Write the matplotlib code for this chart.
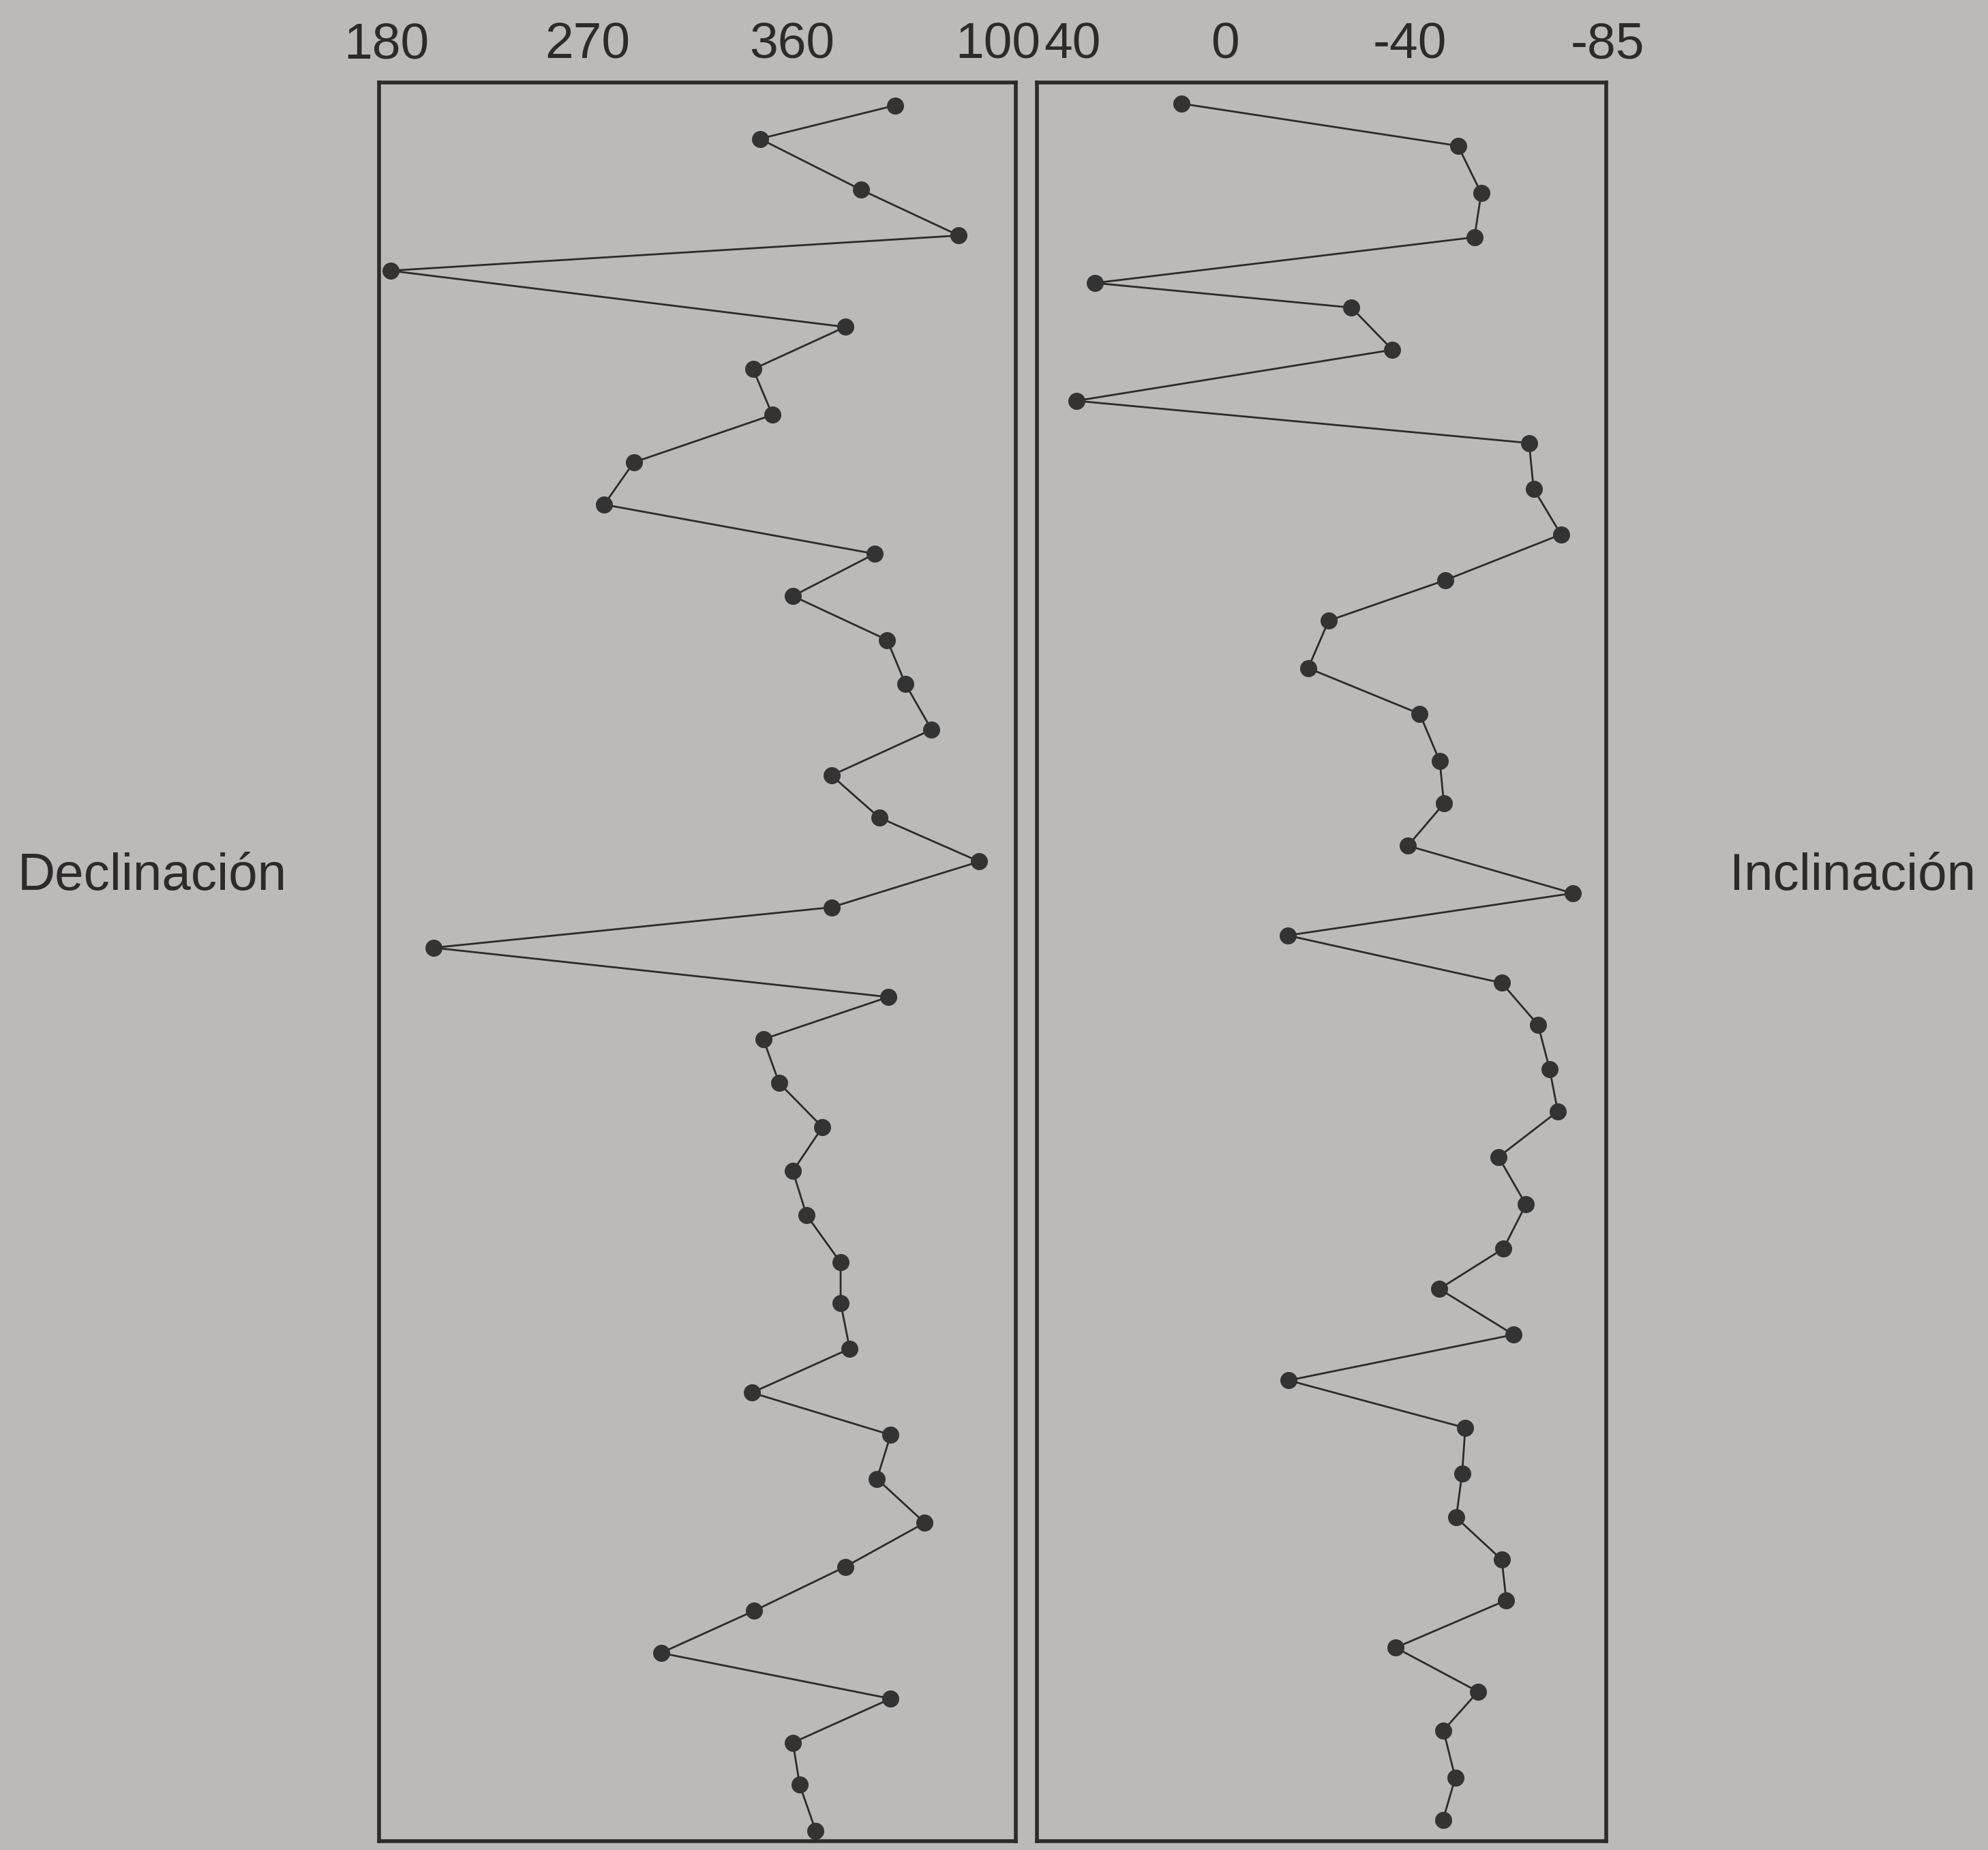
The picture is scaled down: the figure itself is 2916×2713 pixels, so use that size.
import matplotlib
matplotlib.use("Agg")
import matplotlib.pyplot as plt
import matplotlib.transforms as mtransforms

# position of each sample within the column (0 = top, 100 = bottom)
dec_pos = [1.3, 3.2, 6.1, 8.7, 10.7, 13.9, 16.3, 18.9, 21.6, 24.0,
           26.8, 29.2, 31.7, 34.2, 36.8, 39.4, 41.8, 44.3, 46.9, 49.2,
           52.0, 54.4, 56.9, 59.4, 61.9, 64.4, 67.1, 69.4, 72.0, 74.5,
           76.9, 79.4, 81.9, 84.4, 86.9, 89.3, 91.9, 94.4, 96.8, 99.4]
declinacion = [407, 347.5, 392, 435, 185, 385, 344.5, 353, 292, 279,
               398, 362, 403.5, 411.5, 423, 379, 400, 444, 379, 204,
               404, 349, 356, 375, 362, 368, 383, 383, 387, 344,
               405, 399, 420, 385, 345, 304, 405, 362, 365, 372]

inc_pos = [1.2, 3.6, 6.3, 8.8, 11.4, 12.8, 15.2, 18.1, 20.5, 23.1,
           25.7, 28.3, 30.6, 33.3, 35.9, 38.6, 41.0, 43.4, 46.1, 48.5,
           51.2, 53.6, 56.1, 58.5, 61.1, 63.8, 66.3, 68.6, 71.2, 73.8,
           76.5, 79.1, 81.6, 84.0, 86.3, 89.0, 91.5, 93.7, 96.4, 98.8]
inclinacion = [8.3, -52.4, -57.5, -56, 27.3, -29, -38, 31.4, -68, -69,
               -75, -49.6, -24, -19.5, -44, -48.4, -49.3, -41.4, -77.6, -15,
               -62, -70, -72.5, -74.3, -61.3, -67.3, -62.4, -48.3, -64.6, -15.2,
               -54, -53.3, -52, -62, -63, -38.7, -56.8, -49.2, -51.8, -49.1]

dec_ticks = [180, 270, 360, 460]
dec_labels = ["180", "270", "360", "100"]
inc_ticks = [40, 0, -40, -85]
inc_labels = ["40", "0", "-40", "-85"]

BG = "#bcbab9"
INK = "#2b2b2b"

plt.rcParams["font.family"] = ["Liberation Sans", "DejaVu Sans"]

fig = plt.figure(figsize=(29.16, 27.13), dpi=100, facecolor=BG)
ax1 = fig.add_axes([0.1907, 0.0048, 0.3202, 0.9506], facecolor=BG)
ax2 = fig.add_axes([0.5217, 0.0048, 0.2864, 0.9506], facecolor=BG)


def style(ax, ticks, labels, lim, shifts):
    ax.set_xlim(*lim)
    ax.set_ylim(100, 0)
    ax.xaxis.tick_top()
    ax.set_xticks(ticks)
    ax.set_xticklabels(labels)
    ax.set_xticks(ticks[1:-1], minor=True)
    ax.tick_params(axis="x", which="major", length=0, pad=15, labelsize=54,
                   labelcolor=INK)
    ax.tick_params(axis="x", which="minor", length=9, width=3, color=INK,
                   direction="out")
    ax.set_yticks([])
    for s in ax.spines.values():
        s.set_linewidth(4)
        s.set_color(INK)
    # the printed labels sit a little off their ticks
    for lab, dx in zip(ax.get_xticklabels(), shifts):
        lab.set_transform(lab.get_transform() +
                          mtransforms.ScaledTranslation(dx / 72, 0, fig.dpi_scale_trans))


style(ax1, dec_ticks, dec_labels, (180, 460), [8, 4, 4, -19])
style(ax2, inc_ticks, inc_labels, (40, -85), [37, 6, 9, 1])

ax1.plot(declinacion, dec_pos, "-o", color=INK, lw=2, ms=17, mfc="#333333", mec="#333333")
ax2.plot(inclinacion, inc_pos, "-o", color=INK, lw=2, ms=17, mfc="#333333", mec="#333333")

fig.text(0.009, 0.526, "Declinación", fontsize=55, color=INK, va="center", ha="left")
fig.text(0.994, 0.526, "Inclinación", fontsize=55, color=INK, va="center", ha="right")

fig.savefig("out.png", dpi=100, facecolor=BG)
